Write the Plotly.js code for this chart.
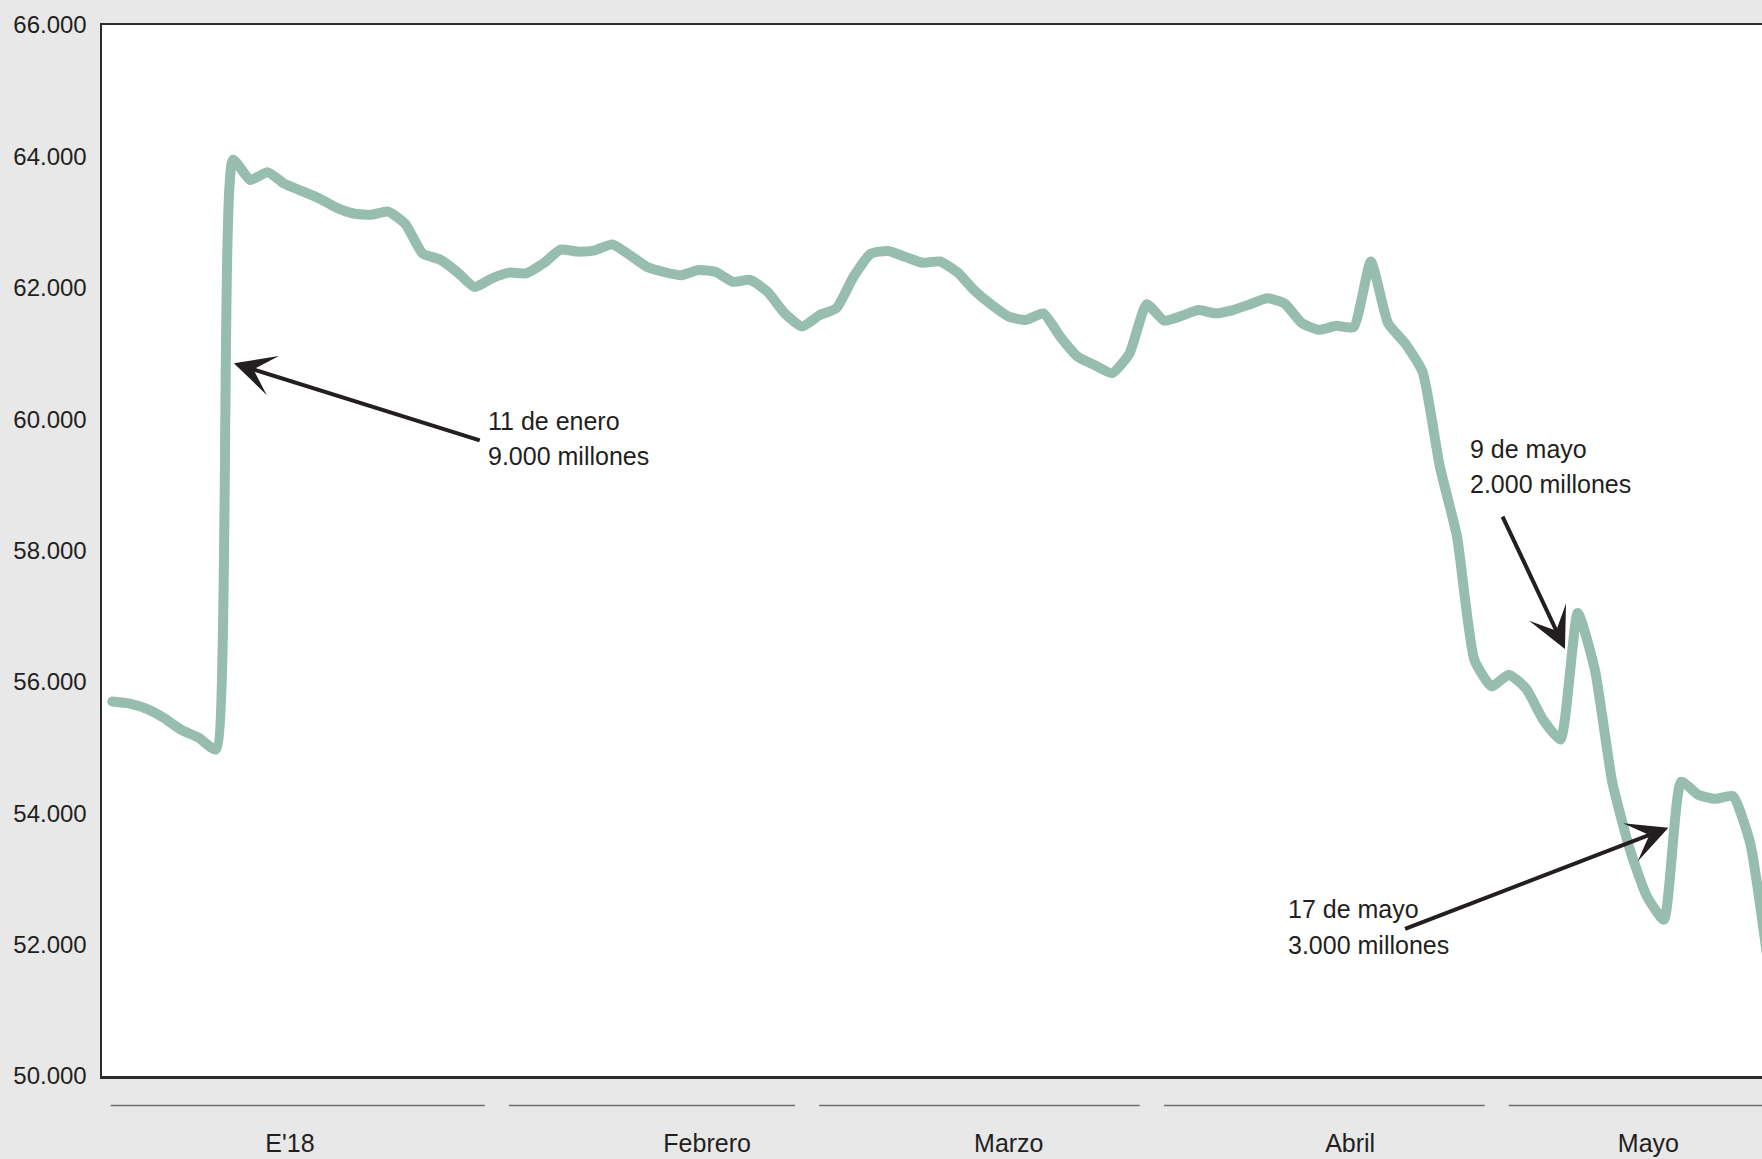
<!DOCTYPE html>
<html>
<head>
<meta charset="utf-8">
<script src="https://cdn.plot.ly/plotly-3.0.1.min.js"></script>
<style>
  html, body { margin: 0; padding: 0; background: #e8e8e8; }
  #chart { width: 1762px; height: 1159px; }
  .scatterlayer .js-line { stroke-linejoin: round !important; stroke-linecap: round !important; }
</style>
</head>
<body>
<div id="chart"></div>
<script>
// Reservas internacionales, millones de US$ (un valor por día hábil, desde el 2 de enero de 2018)
const reservas = [
  55700, 55670, 55590, 55450, 55270, 55150, 54970, 63950, 63640, 63760,
  63580, 63470, 63360, 63220, 63130, 63110, 63160, 62970, 62520, 62430,
  62240, 62010, 62140, 62230, 62220, 62370, 62580, 62550, 62570, 62660,
  62500, 62320, 62240, 62190, 62270, 62240, 62090, 62120, 61940, 61610,
  61410, 61580, 61690, 62170, 62520, 62560, 62470, 62380, 62400, 62240,
  61960, 61740, 61560, 61510, 61610, 61250, 60950, 60820, 60700, 61000,
  61750, 61500, 61570, 61660, 61610, 61660, 61750, 61840, 61760, 61460,
  61360, 61420, 61400, 62400, 61460, 61150, 60720, 59280, 58210, 56340,
  55930, 56110, 55900, 55420, 55120, 57050, 56180, 54480, 53470, 52740,
  52380, 54480, 54280, 54220, 54260, 53550, 51800
];

// Meses: etiqueta y cantidad de días hábiles de cada uno
const meses = ["E'18", "Febrero", "Marzo", "Abril", "Mayo"];
const diasHabiles = [22, 18, 20, 20, 17];
const mesEtiquetaEn = [10.3, 34.5, 52, 71.8, 89.1];

// Notas: fecha y monto ingresado
const notasFecha = ["11 de enero", "9 de mayo", "17 de mayo"];
const notasMonto = ["9.000 millones", "2.000 millones", "3.000 millones"];

const yTicks = [50000, 52000, 54000, 56000, 58000, 60000, 62000, 64000, 66000];

const dias = reservas.map((_, i) => i);
const FONT = "'Liberation Sans', Arial, sans-serif";
const INK = '#231f20';

// month underline segments computed from the business-day counts
const shapes = [];
let start = 0;
diasHabiles.forEach((n, k) => {
  const end = start + n - 1;
  shapes.push({
    type: 'line', xref: 'x', yref: 'paper',
    x0: start + (k === 0 ? -0.1 : 1.0), x1: Math.min(end + 0.6, 96),
    y0: -0.028, y1: -0.028,
    line: { color: '#6d6e71', width: 1.5 }
  });
  start += n;
});

// arrow geometry (head / tail, in axis units) and the two text line anchors
const notaPos = [
  { head: [7.05, 60850], tail: [21.4, 59670], x: 21.7, line1: 59966, line2: 59436 },
  { head: [84.26, 56500], tail: [80.6, 58540], x: 78.65, line1: 59538, line2: 59009 },
  { head: [90.26, 53780], tail: [74.9, 52230], x: 68.1, line1: 52549, line2: 52001 }
];

const annotations = [];
notaPos.forEach((p, k) => {
  annotations.push({
    xref: 'x', yref: 'y', axref: 'x', ayref: 'y',
    x: p.head[0], y: p.head[1], ax: p.tail[0], ay: p.tail[1],
    text: '', showarrow: true,
    arrowhead: 3, arrowsize: 1.7, arrowwidth: 4, arrowcolor: INK, standoff: 0
  });
  [[notasFecha[k], p.line1], [notasMonto[k], p.line2]].forEach(([t, yv]) => {
    annotations.push({
      xref: 'x', yref: 'y', x: p.x, y: yv,
      xanchor: 'left', yanchor: 'middle', align: 'left', showarrow: false,
      text: t,
      font: { family: FONT, size: 25, color: INK }
    });
  });
});

const trace = {
  x: dias, y: reservas, type: 'scatter', mode: 'lines',
  line: { color: '#97bdae', width: 10, shape: 'spline', smoothing: 0.5 },
  hoverinfo: 'skip'
};

const layout = {
  width: 1762, height: 1159,
  margin: { l: 102, r: 0, t: 25, b: 83 },
  paper_bgcolor: '#e8e8e8', plot_bgcolor: '#ffffff',
  separators: ',.',
  showlegend: false,
  font: { family: FONT, color: INK, size: 24 },
  xaxis: {
    range: [-0.6, 95.69], showgrid: false, zeroline: false,
    showline: true, mirror: true, linecolor: '#2b2b2b', linewidth: 2.5,
    tickmode: 'array', tickvals: mesEtiquetaEn, ticktext: meses,
    ticks: '', ticklabelstandoff: 43,
    tickfont: { family: FONT, size: 25, color: INK }
  },
  yaxis: {
    range: [50000, 66000], showgrid: false, zeroline: false,
    showline: true, linecolor: '#2b2b2b', linewidth: 2.5,
    tickmode: 'array', tickvals: yTicks, tickformat: ',d',
    ticks: '', ticklabelstandoff: 8,
    tickfont: { family: FONT, size: 24, color: INK }
  },
  shapes: shapes,
  annotations: annotations
};

Plotly.newPlot('chart', [trace], layout, { displayModeBar: false, staticPlot: true });
</script>
</body>
</html>
